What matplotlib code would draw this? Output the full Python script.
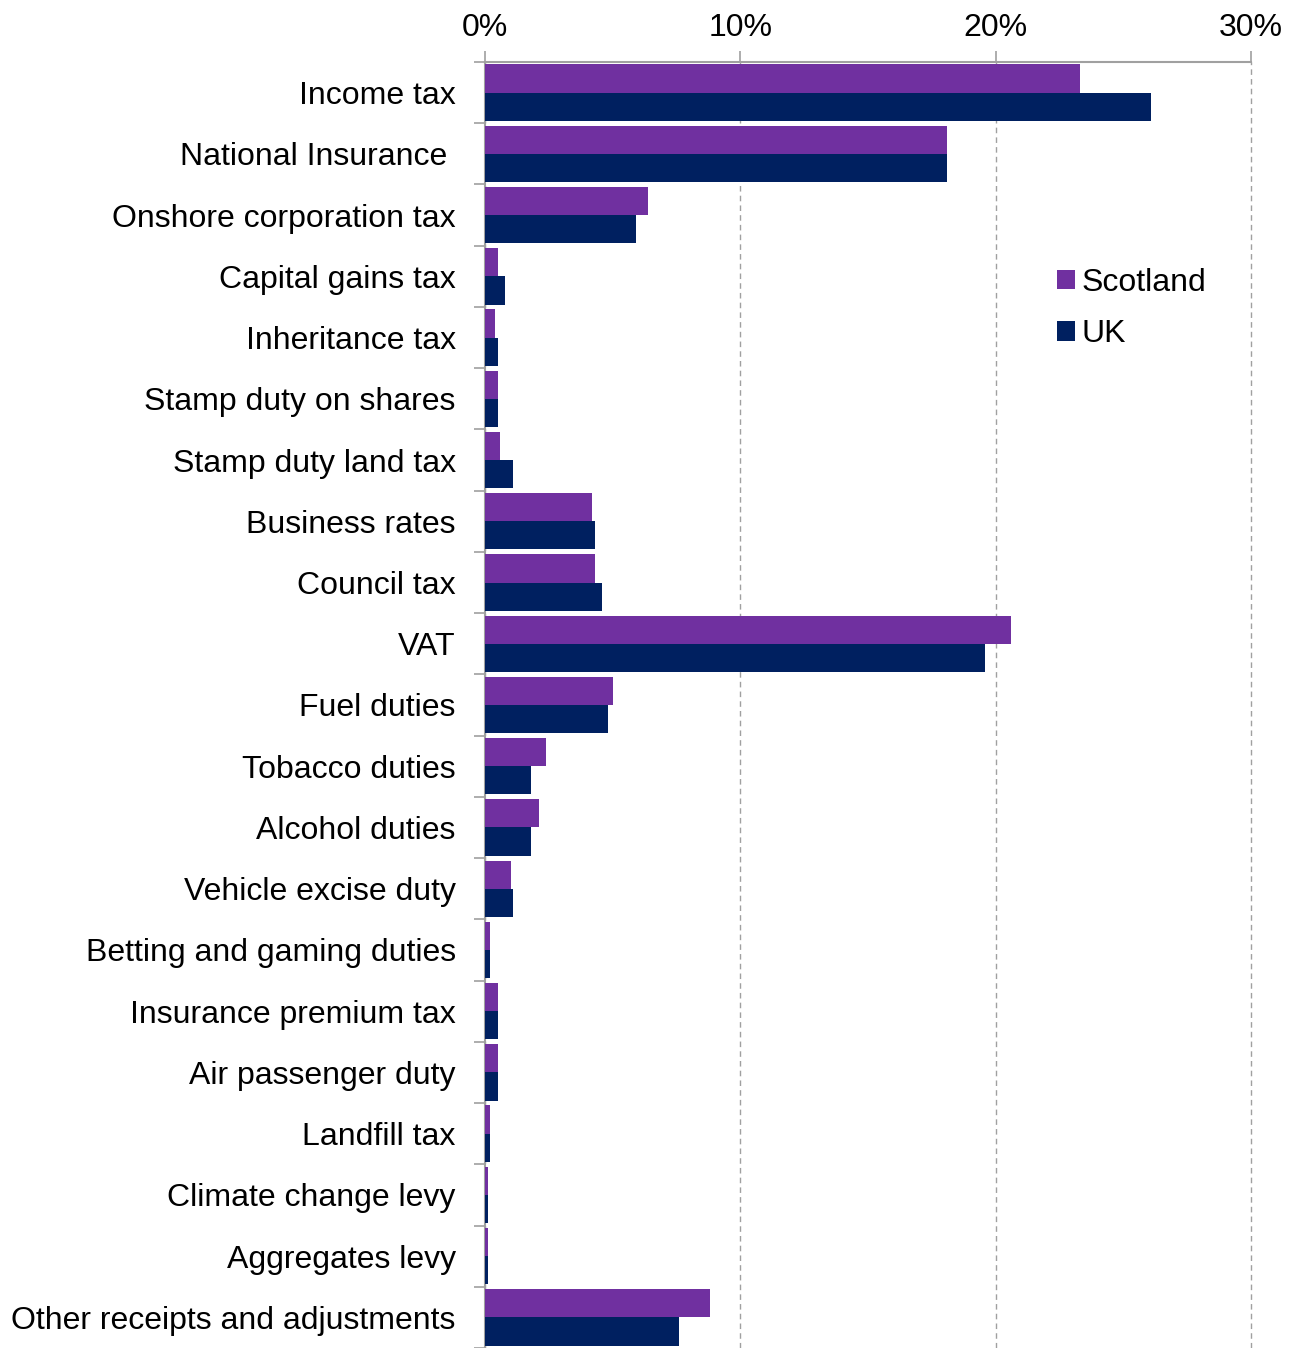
import matplotlib
matplotlib.use("Agg")
import matplotlib.pyplot as plt
import numpy as np
from matplotlib.ticker import FixedLocator

plt.rcParams['font.family'] = ['Liberation Sans', 'DejaVu Sans']

categories = [
    "Income tax", "National Insurance ", "Onshore corporation tax",
    "Capital gains tax", "Inheritance tax", "Stamp duty on shares",
    "Stamp duty land tax", "Business rates", "Council tax", "VAT",
    "Fuel duties", "Tobacco duties", "Alcohol duties", "Vehicle excise duty",
    "Betting and gaming duties", "Insurance premium tax", "Air passenger duty",
    "Landfill tax", "Climate change levy", "Aggregates levy",
    "Other receipts and adjustments",
]
scotland = [23.3, 18.1, 6.4, 0.5, 0.4, 0.5, 0.6, 4.2, 4.3, 20.6, 5.0, 2.4,
            2.1, 1.0, 0.2, 0.5, 0.5, 0.2, 0.1, 0.1, 8.8]
uk = [26.1, 18.1, 5.9, 0.8, 0.5, 0.5, 1.1, 4.3, 4.6, 19.6, 4.8, 1.8,
      1.8, 1.1, 0.2, 0.5, 0.5, 0.2, 0.1, 0.1, 7.6]
x_ticks = [0, 10, 20, 30]
x_tick_labels = ["0%", "10%", "20%", "30%"]

c_scot = "#7030A0"
c_uk = "#002060"
grey = "#A0A0A0"
fs = 23

fig = plt.figure(figsize=(12.92, 13.48), dpi=100)
ax = fig.add_axes([485 / 1292, 0.0, (1251 - 485) / 1292, 1 - 62 / 1348])

n = len(categories)
y = np.arange(n)
h = 0.46
ax.barh(y - h / 2, scotland, height=h, color=c_scot, label="Scotland", zorder=3)
ax.barh(y + h / 2, uk, height=h, color=c_uk, label="UK", zorder=3)

ax.set_ylim(n - 0.5, -0.5)
ax.set_xlim(0, 30)

# x axis on top
ax.xaxis.tick_top()
ax.set_xticks(x_ticks)
ax.set_xticklabels(x_tick_labels, fontsize=fs)
ax.tick_params(axis='x', which='major', length=8, width=1.2, color=grey, pad=6)
ax.grid(axis='x', color=grey, linestyle=(0, (4, 3)), linewidth=1, zorder=0)
for gl in ax.get_xgridlines():
    gl.set_clip_on(False)

# y labels at category centres, tick marks at boundaries
ax.set_yticks(y)
ax.set_yticklabels(categories, fontsize=fs)
ax.tick_params(axis='y', which='major', length=0, pad=21)
ax.yaxis.set_minor_locator(FixedLocator(np.arange(-0.5, n, 1.0)))
ax.tick_params(axis='y', which='minor', length=8, width=1.2, color=grey)

for s in ['right', 'bottom']:
    ax.spines[s].set_visible(False)
for s in ['top', 'left']:
    ax.spines[s].set_color(grey)
    ax.spines[s].set_linewidth(1.5)

leg = ax.legend(loc='upper left',
                bbox_to_anchor=((1057 - 485) / (1251 - 485), 1 - (268 - 62) / (1348 - 62)),
                frameon=False, fontsize=fs, handlelength=0.55, handleheight=0.55,
                handletextpad=0.22, labelspacing=0.67, borderaxespad=0, borderpad=0)

fig.savefig("out.png", dpi=100)
